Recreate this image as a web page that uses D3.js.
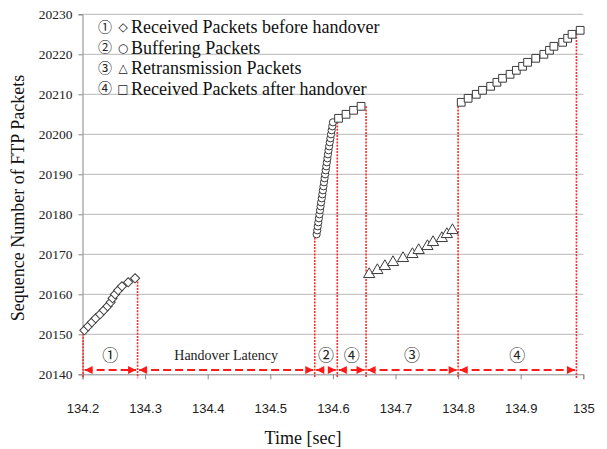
<!DOCTYPE html>
<html><head><meta charset="utf-8">
<script src="https://cdn.jsdelivr.net/npm/d3@7"></script>
<style>body{margin:0;background:#fff}</style>
</head><body>
<svg id="c" width="607" height="449"></svg>
<script>
// ---- data ----
const xTicks = [134.2,134.3,134.4,134.5,134.6,134.7,134.8,134.9,135];
const yTicks = [20140,20150,20160,20170,20180,20190,20200,20210,20220,20230];

const beforeTime = [134.203,134.209,134.215,134.221,134.228,134.234,134.240,134.245,134.248,134.252,134.257,134.263,134.273,134.284];
const beforeSeq  = [20151,20152,20153,20154,20155,20156,20157,20158,20159,20160,20161,20162,20163,20164];

const bufferTime = [134.5740,134.5750,134.5758,134.5767,134.5776,134.5785,134.5794,134.5803,134.5812,134.5822,
                    134.5831,134.5840,134.5849,134.5858,134.5867,134.5876,134.5885,134.5894,134.5903,134.5912,
                    134.5921,134.5930,134.5940,134.5950,134.5960,134.5970,134.5980,134.5990,134.6000];
const bufferSeq  = [20175,20176,20177,20178,20179,20180,20181,20182,20183,20184,20185,20186,20187,20188,20189,
                    20190,20191,20192,20193,20194,20195,20196,20197,20198,20199,20200,20201,20202,20203];

const retransTime = [134.658,134.671,134.683,134.696,134.712,134.727,134.737,134.751,134.760,134.774,134.782,134.791];
const retransSeq  = [20165,20166,20167,20168,20169,20170,20171,20172,20173,20174,20175,20176];

const afterTime = [134.609,134.621,134.633,134.645,
                   134.805,134.816,134.829,134.839,134.852,134.862,134.871,134.883,134.893,134.903,
                   134.911,134.924,134.937,134.946,134.953,134.967,134.975,134.982,134.995];
const afterSeq  = [20204,20205,20206,20207,
                   20208,20209,20210,20211,20212,20213,20214,20215,20216,20217,
                   20218,20219,20220,20221,20222,20223,20224,20225,20226];

const markTime = [134.201,134.288,134.571,134.607,134.653,134.800,134.989];
const markSeq  = [20151,20164,20175,20203,20207,20207,20226];

const spanFrom  = [134.201,134.288,134.571,134.607,134.653,134.800];
const spanTo    = [134.288,134.571,134.607,134.653,134.800,134.989];
const spanLabel = ["①","Handover Latency","②","④","③","④"];

const legendNum  = ["①","②","③","④"];
const legendSym  = ["◇","○","△","□"];
const legendText = ["Received Packets before handover","Buffering Packets","Retransmission Packets","Received Packets after handover"];

// ---- chart ----
const svg = d3.select("#c");
const x = d3.scaleLinear().domain([134.2,135]).range([82.5,583.3]);
const y = d3.scaleLinear().domain([20140,20230]).range([374.3,14.3]);
const serif = "'Liberation Serif','Times New Roman',serif";
const sans = "'Liberation Sans',Arial,sans-serif";
const circ = "'Noto Sans CJK JP','Noto Sans CJK KR',sans-serif";
const symf = "'DejaVu Sans',sans-serif";

// gridlines
svg.append("g").selectAll("line").data(yTicks.slice(1)).join("line")
  .attr("x1",x(134.2)).attr("x2",x(135)).attr("y1",d=>y(d)).attr("y2",d=>y(d))
  .attr("stroke","#b8b8b8").attr("stroke-width",1);

// axes
const ya = svg.append("g").attr("transform",`translate(${x(134.2)},0)`)
  .call(d3.axisLeft(y).tickValues(yTicks).tickSize(4).tickPadding(6).tickFormat(d3.format("d")));
ya.select(".domain").attr("stroke","#888");
ya.selectAll(".tick line").attr("stroke","#888");
ya.selectAll("text").attr("font-family",serif).attr("font-size",13.5).attr("fill","#222");

const xa = svg.append("g").attr("transform",`translate(0,${y(20140)})`)
  .call(d3.axisBottom(x).tickValues(xTicks).tickSize(5).tickFormat(d=>d3.format("")(+d.toFixed(1))));
xa.select(".domain").attr("stroke","#888");
xa.selectAll(".tick line").attr("stroke","#888");
xa.selectAll("text").attr("y",29).attr("font-family",sans).attr("font-size",13).attr("fill","#222");

// titles
svg.append("text").attr("x",303).attr("y",444).attr("text-anchor","middle")
  .attr("font-family",serif).attr("font-size",18).attr("fill","#111").text("Time [sec]");
svg.append("text").attr("transform","translate(24,198) rotate(-90)").attr("text-anchor","middle")
  .attr("font-family",serif).attr("font-size",18).attr("fill","#111").text("Sequence Number of FTP Packets");

// red dotted verticals
svg.append("g").selectAll("line").data(markTime).join("line")
  .attr("x1",d=>x(d)).attr("x2",d=>x(d))
  .attr("y1",(d,i)=>y(markSeq[i])).attr("y2",y(20140)+4)
  .attr("stroke","#ff2a2a").attr("stroke-width",1.6).attr("stroke-dasharray","2,1.2");

// arrows
const defs = svg.append("defs");
defs.append("marker").attr("id","ah").attr("viewBox","0 0 10 10").attr("refX",10).attr("refY",5)
  .attr("markerWidth",4.5).attr("markerHeight",4).attr("orient","auto-start-reverse").attr("markerUnits","strokeWidth")
  .append("path").attr("d","M0,0L10,5L0,10Z").attr("fill","#ff1a1a");
const ay = 370;
svg.append("g").selectAll("line").data(spanFrom).join("line")
  .attr("x1",d=>x(d)+1.5).attr("x2",(d,i)=>x(spanTo[i])-1.5).attr("y1",ay).attr("y2",ay)
  .attr("stroke","#ff1a1a").attr("stroke-width",2).attr("stroke-dasharray","8,4")
  .attr("marker-start","url(#ah)").attr("marker-end","url(#ah)");
svg.append("g").selectAll("text").data(spanFrom).join("text")
  .attr("x",(d,i)=>(x(d)+x(spanTo[i]))/2).attr("y",355).attr("dy","0.35em")
  .attr("text-anchor","middle")
  .attr("font-family",(d,i)=>spanLabel[i].length>1?serif:circ)
  .attr("font-size",(d,i)=>spanLabel[i].length>1?14:16)
  .attr("fill","#222").text((d,i)=>spanLabel[i]);

// markers
const st = "#3a3a3a";
const sq = d3.symbol().type(d3.symbolSquare).size(42);
svg.append("g").selectAll("path").data(beforeTime).join("path")
  .attr("d",sq).attr("transform",(d,i)=>`translate(${x(d)},${y(beforeSeq[i])}) rotate(45)`)
  .attr("fill","#fff").attr("stroke",st).attr("stroke-width",1);
svg.append("g").selectAll("circle").data(bufferTime).join("circle")
  .attr("cx",d=>x(d)).attr("cy",(d,i)=>y(bufferSeq[i])).attr("r",3.6)
  .attr("fill","#fff").attr("stroke",st).attr("stroke-width",1);
const tri = d3.symbol().type(d3.symbolTriangle).size(55);
svg.append("g").selectAll("path").data(retransTime).join("path")
  .attr("d",tri).attr("transform",(d,i)=>`translate(${x(d)},${y(retransSeq[i])})`)
  .attr("fill","#fff").attr("stroke",st).attr("stroke-width",1);
const sq2 = d3.symbol().type(d3.symbolSquare).size(60);
svg.append("g").selectAll("path").data(afterTime).join("path")
  .attr("d",sq2).attr("transform",(d,i)=>`translate(${x(d)},${y(afterSeq[i])})`)
  .attr("fill","#fff").attr("stroke",st).attr("stroke-width",1);

// legend
const lg = svg.append("g");
legendNum.forEach((n,i)=>{
  const yy = 27 + i*20.5;
  lg.append("text").attr("x",105).attr("y",yy).attr("dy","0.35em").attr("text-anchor","middle")
    .attr("font-family",circ).attr("font-size",14).attr("fill","#222").text(n);
  lg.append("text").attr("x",123).attr("y",yy).attr("dy","0.35em").attr("text-anchor","middle")
    .attr("font-family",symf).attr("font-size",12).attr("fill","#222").text(legendSym[i]);
  lg.append("text").attr("x",131).attr("y",yy).attr("dy","0.35em")
    .attr("font-family",serif).attr("font-size",18).attr("fill","#111").text(legendText[i]);
});
</script>
</body></html>
